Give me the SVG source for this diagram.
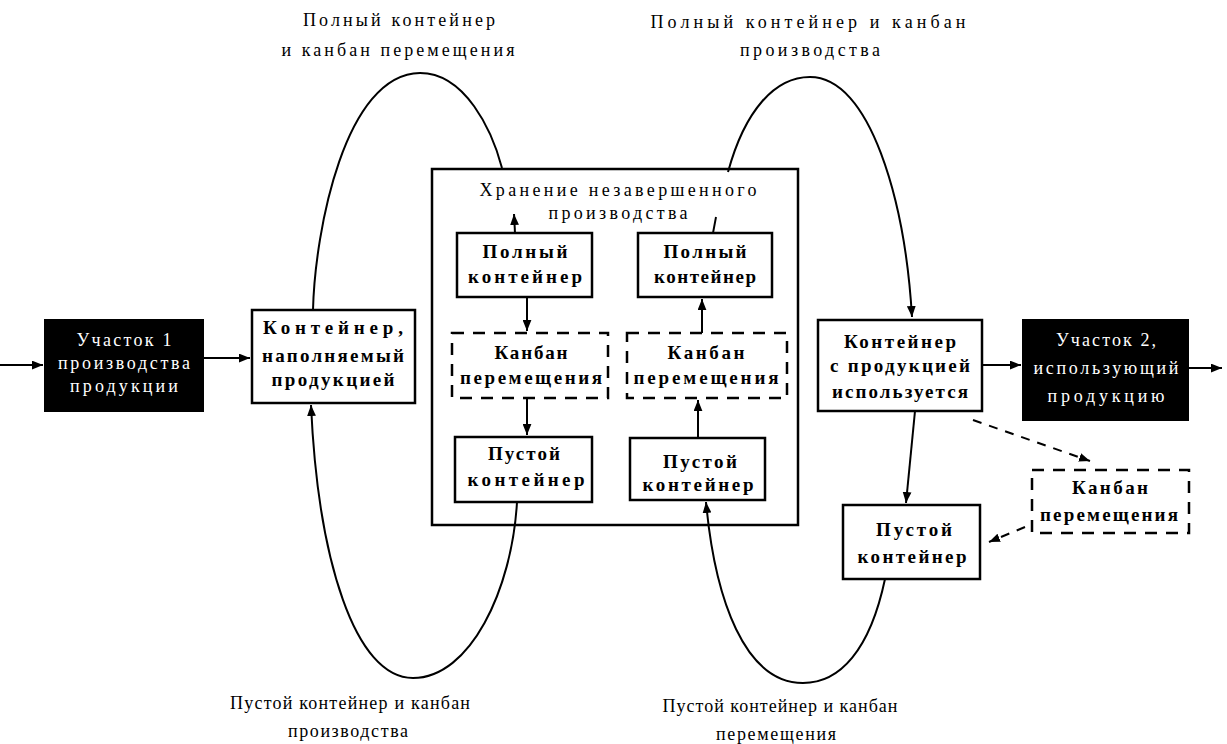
<svg xmlns="http://www.w3.org/2000/svg" width="1227" height="744" viewBox="0 0 1227 744">
<defs>
<marker id="ah" viewBox="0 0 10 8" refX="10" refY="4" markerWidth="11" markerHeight="9" orient="auto" markerUnits="userSpaceOnUse"><path d="M0,0 L10,4 L0,8 z" fill="#000"/></marker>
</defs>
<style>
.box{fill:#fff;stroke:#000;stroke-width:2.5}
.dash{fill:#fff;stroke:#000;stroke-width:2.5;stroke-dasharray:12 9}
.blk{fill:#000;stroke:#000;stroke-width:2}
.frame{fill:none;stroke:#000;stroke-width:2.5}
.t{font-family:"Liberation Serif",serif;font-size:18px;text-anchor:middle;fill:#000}
.b{font-weight:bold;font-size:19px}
.w{fill:#fff}
.ln{fill:none;stroke:#000;stroke-width:2}
.dl{fill:none;stroke:#000;stroke-width:2;stroke-dasharray:9 8}
</style>
<rect width="1227" height="744" fill="#fff"/>
<g id="storage">
<rect class="frame" x="432" y="169" width="366" height="356"/>
<text class="t" x="618" y="196" textLength="277">Хранение незавершенного</text>
<text class="t" x="618" y="219" textLength="139">производства</text>
</g>
<g id="connectors">
<path class="ln" d="M0,365 L43,365" marker-end="url(#ah)"/>
<path class="ln" d="M203,358 L250,358" marker-end="url(#ah)"/>
<path class="ln" d="M982,365 L1021,365" marker-end="url(#ah)"/>
<path class="ln" d="M1188,368 L1222,368" marker-end="url(#ah)"/>
<path class="ln" d="M313,310 C315,230 345,74 420,73 C465,73 492,130 502,168"/>
<path class="ln" d="M515,233 L514,214" marker-end="url(#ah)"/>
<path class="ln" d="M713,233 L716,217"/>
<path class="ln" d="M728,172 C745,110 775,77 810,77 C870,77 905,200 912,317" marker-end="url(#ah)"/>
<path class="ln" d="M527,297 L527,331" marker-end="url(#ah)"/>
<path class="ln" d="M527,398 L527,435" marker-end="url(#ah)"/>
<path class="ln" d="M698,438 L698,400" marker-end="url(#ah)"/>
<path class="ln" d="M702,333 L702,299" marker-end="url(#ah)"/>
<path class="ln" d="M517,502 C512,590 470,678 413,678 C355,678 318,560 311,405" marker-end="url(#ah)"/>
<path class="ln" d="M885,579 C870,650 840,683 803,683 C745,683 715,600 706,502" marker-end="url(#ah)"/>
<path class="ln" d="M915,411 L906,503" marker-end="url(#ah)"/>
<path class="dl" d="M973,420 L1090,461" marker-end="url(#ah)"/>
<path class="dl" d="M1025,527 L989,542" marker-end="url(#ah)"/>
</g>
<g id="uch1">
<rect class="blk" x="45" y="320" width="158" height="91"/>
<text class="t w" x="124" y="346" textLength="95">Участок 1</text>
<text class="t w" x="124" y="369" textLength="132">производства</text>
<text class="t w" x="124" y="392" textLength="108">продукции</text>
</g>
<g id="cont1">
<rect class="box" x="252" y="310" width="163" height="93"/>
<text class="t b" x="333" y="334" textLength="140">Контейнер,</text>
<text class="t b" x="333" y="362" textLength="142">наполняемый</text>
<text class="t b" x="333" y="386" textLength="123">продукцией</text>
</g>
<g id="full1">
<rect class="box" x="457" y="233" width="135" height="64"/>
<text class="t b" x="525" y="258" textLength="85">Полный</text>
<text class="t b" x="525" y="283" textLength="114">контейнер</text>
</g>
<g id="full2">
<rect class="box" x="638" y="233" width="134" height="64"/>
<text class="t b" x="705" y="258" textLength="83">Полный</text>
<text class="t b" x="705" y="283" textLength="102">контейнер</text>
</g>
<g id="kb1">
<rect class="dash" x="452" y="333" width="156" height="65"/>
<text class="t b" x="531" y="359" textLength="73">Канбан</text>
<text class="t b" x="531" y="384" textLength="142">перемещения</text>
</g>
<g id="kb2">
<rect class="dash" x="627" y="333" width="160" height="65"/>
<text class="t b" x="706" y="359" textLength="77">Канбан</text>
<text class="t b" x="706" y="384" textLength="145">перемещения</text>
</g>
<g id="empty1">
<rect class="box" x="455" y="437" width="137" height="65"/>
<text class="t b" x="524" y="460" textLength="72">Пустой</text>
<text class="t b" x="526" y="486" textLength="117">контейнер</text>
</g>
<g id="empty2">
<rect class="box" x="630" y="438" width="135" height="62"/>
<text class="t b" x="700" y="468" textLength="74">Пустой</text>
<text class="t b" x="698" y="491" textLength="111">контейнер</text>
</g>
<g id="cont2">
<rect class="box" x="818" y="320" width="164" height="91"/>
<text class="t b" x="900" y="348" textLength="112">Контейнер</text>
<text class="t b" x="900" y="372" textLength="140">с продукцией</text>
<text class="t b" x="900" y="398" textLength="136">используется</text>
</g>
<g id="uch2">
<rect class="blk" x="1023" y="320" width="165" height="100"/>
<text class="t w" x="1106" y="346" textLength="100">Участок 2,</text>
<text class="t w" x="1106" y="374" textLength="145">использующий</text>
<text class="t w" x="1106" y="402" textLength="117">продукцию</text>
</g>
<g id="empty3">
<rect class="box" x="843" y="505" width="137" height="74"/>
<text class="t b" x="914" y="536" textLength="76">Пустой</text>
<text class="t b" x="912" y="563" textLength="109">контейнер</text>
</g>
<g id="kb3">
<rect class="dash" x="1032" y="470" width="157" height="63"/>
<text class="t b" x="1110" y="494" textLength="76">Канбан</text>
<text class="t b" x="1109" y="521" textLength="138">перемещения</text>
</g>
<g id="labels">
<text class="t" x="399" y="26" textLength="192">Полный контейнер</text>
<text class="t" x="398" y="56" textLength="233">и канбан перемещения</text>
<text class="t" x="808" y="28" textLength="315">Полный контейнер и канбан</text>
<text class="t" x="810" y="56" textLength="140">производства</text>
<text class="t" x="350" y="709" textLength="240">Пустой контейнер и канбан</text>
<text class="t" x="348" y="737" textLength="120">производства</text>
<text class="t" x="780" y="712" textLength="235">Пустой контейнер и канбан</text>
<text class="t" x="776" y="740" textLength="120">перемещения</text>
</g>
</svg>
